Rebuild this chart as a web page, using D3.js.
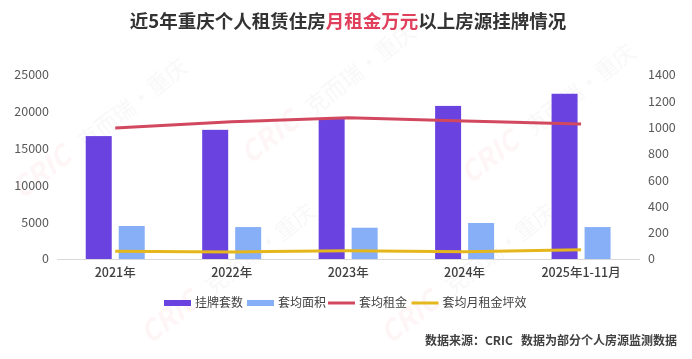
<!DOCTYPE html>
<html>
<head>
<meta charset="utf-8">
<script src="https://cdn.jsdelivr.net/npm/d3@7"></script>
<style>
  body { margin: 0; background: #fff; }
  svg { display: block; font-family: "Noto Sans CJK SC", "Noto Sans", sans-serif; }
</style>
</head>
<body>
<div id="chart"></div>
<script>
var width = 692,
    height = 359;

// data
var years = ["2021年", "2022年", "2023年", "2024年", "2025年1-11月"];
var listings = [16700, 17550, 19050, 20800, 22450];   // 挂牌套数, left axis
var avgArea = [251, 243, 238, 274, 243];              // 套均面积, right axis
var avgRent = [17800, 18650, 19200, 18750, 18350];    // 套均租金, left axis
var rentPerArea = [59, 53, 63, 56, 71];               // 套均月租金坪效, right axis
var leftTicks = [0, 5000, 10000, 15000, 20000, 25000];
var rightTicks = [0, 200, 400, 600, 800, 1000, 1200, 1400];

var colors = {
  listings: "#6a42e0",
  area: "#86aff8",
  rent: "#d1485f",
  eff: "#e5b71d"
};

var margin = {left: 57, right: 52, top: 75, bottom: 100};

var svg = d3.select("#chart").append("svg")
  .attr("width", width)
  .attr("height", height);

// faint watermark tiles
var wm = svg.append("g").attr("opacity", 0.05);
var tiles = [[22, 200], [250, 165], [470, 185], [150, 345], [390, 345]];
tiles.forEach(function(t) {
  var g = wm.append("g").attr("transform", "translate(" + t[0] + "," + t[1] + ") rotate(-38)");
  g.append("text").text("CRIC")
    .attr("font-size", 28).attr("font-weight", "bold").attr("font-style", "italic")
    .attr("fill", "#e8314f");
  g.append("text").text("克而瑞·重庆")
    .attr("x", 80).attr("font-size", 22).attr("fill", "#666");
});

var x = d3.scaleBand()
  .domain(years)
  .range([margin.left, width - margin.right - 0.7])
  .paddingInner(0).paddingOuter(0);

var sub = d3.scaleBand()
  .domain(["listings", "area"])
  .range([x.bandwidth() / 2 - 29.5, x.bandwidth() / 2 + 29.5])
  .paddingInner(7 / 33);

var yL = d3.scaleLinear().domain([0, 25000]).range([259, 75]);
var yR = d3.scaleLinear().domain([0, 1400]).range([259, 75]);

// axis tick labels
svg.append("g").selectAll("text").data(leftTicks).join("text")
  .attr("x", 49).attr("y", d => yL(d)).attr("dy", "0.35em")
  .attr("text-anchor", "end")
  .attr("font-size", 12.5).attr("fill", "#595959")
  .text(d => d);

svg.append("g").selectAll("text").data(rightTicks).join("text")
  .attr("x", 648).attr("y", d => yR(d)).attr("dy", "0.35em")
  .attr("text-anchor", "start")
  .attr("font-size", 12.5).attr("fill", "#595959")
  .text(d => d);

// bars
var groups = svg.append("g").selectAll("g").data(years).join("g")
  .attr("transform", d => "translate(" + x(d) + ",0)");

groups.append("rect")
  .attr("x", sub("listings")).attr("width", sub.bandwidth())
  .attr("y", (d, i) => yL(listings[i]))
  .attr("height", (d, i) => yL(0) - yL(listings[i]))
  .attr("fill", colors.listings);

groups.append("rect")
  .attr("x", sub("area")).attr("width", sub.bandwidth())
  .attr("y", (d, i) => yR(avgArea[i]))
  .attr("height", (d, i) => yR(0) - yR(avgArea[i]))
  .attr("fill", colors.area);

// baseline
svg.append("line")
  .attr("x1", margin.left).attr("x2", width - margin.right)
  .attr("y1", yL(0) + 0.5).attr("y2", yL(0) + 0.5)
  .attr("stroke", "#d9d9d9");

// lines
var cx = d => x(d) + x.bandwidth() / 2;

svg.append("path")
  .datum(years)
  .attr("fill", "none").attr("stroke", colors.rent).attr("stroke-width", 3)
  .attr("d", d3.line().x(cx).y((d, i) => yL(avgRent[i])));

svg.append("path")
  .datum(years)
  .attr("fill", "none").attr("stroke", colors.eff).attr("stroke-width", 3)
  .attr("d", d3.line().x(cx).y((d, i) => yR(rentPerArea[i])));

// x labels
svg.append("g").selectAll("text").data(years).join("text")
  .attr("x", cx).attr("y", 273).attr("dy", "0.35em")
  .attr("text-anchor", "middle")
  .attr("font-size", 12.5).attr("font-weight", 500).attr("fill", "#404040")
  .text(d => d);

// title
var title = svg.append("text")
  .attr("x", 348).attr("y", 22).attr("dy", "0.35em")
  .attr("text-anchor", "middle")
  .attr("font-size", 18.5).attr("font-weight", "bold").attr("fill", "#333");
title.append("tspan").text("近5年重庆个人租赁住房");
title.append("tspan").attr("fill", "#e0405c").text("月租金万元");
title.append("tspan").text("以上房源挂牌情况");

// legend
var legendItems = [
  {label: "挂牌套数", color: colors.listings, type: "rect", x: 164},
  {label: "套均面积", color: colors.area, type: "rect", x: 247},
  {label: "套均租金", color: colors.rent, type: "line", x: 328},
  {label: "套均月租金坪效", color: colors.eff, type: "line", x: 411.5}
];
var legend = svg.append("g").selectAll("g").data(legendItems).join("g")
  .attr("transform", d => "translate(" + d.x + ",303)");
legend.append("rect")
  .attr("x", 0).attr("width", 27)
  .attr("y", d => d.type === "rect" ? -3 : -1.5)
  .attr("height", d => d.type === "rect" ? 6 : 3)
  .attr("fill", d => d.color);
legend.append("text")
  .attr("x", 31).attr("dy", "0.35em")
  .attr("font-size", 12).attr("fill", "#404040")
  .text(d => d.label);

// source note
svg.append("text")
  .attr("x", 677).attr("y", 341).attr("dy", "0.35em")
  .attr("text-anchor", "end")
  .attr("font-size", 12).attr("font-weight", "bold").attr("fill", "#404040")
  .text("数据来源：CRIC\u00a0\u00a0\u00a0数据为部分个人房源监测数据");
</script>
</body>
</html>
